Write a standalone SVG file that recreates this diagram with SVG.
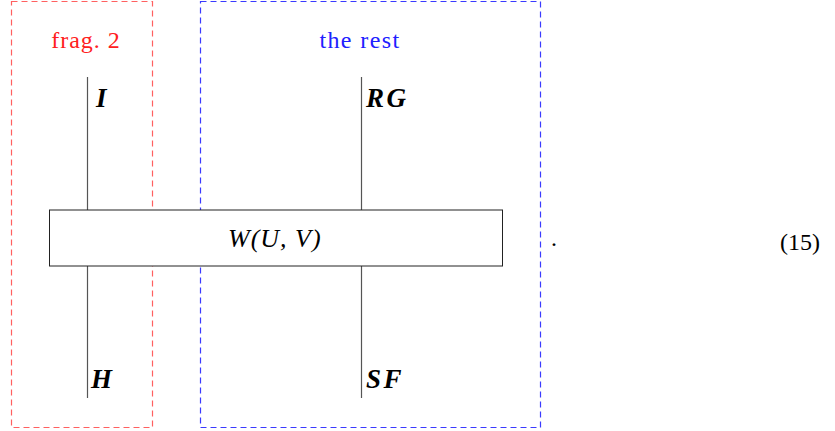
<svg xmlns="http://www.w3.org/2000/svg" width="835" height="431" viewBox="0 0 835 431">
<style>
.wire{stroke:#555;stroke-width:1.2;fill:none}
.lbl{font-family:"Liberation Serif",serif;font-weight:bold;font-style:italic;font-size:27px;fill:#000;letter-spacing:2.5px}
.t{font-family:"Liberation Serif",serif;font-size:24px}
</style>
<rect width="835" height="431" fill="#fff"/>
<g id="frag2">
<rect x="11.5" y="1.5" width="141" height="426" fill="none" stroke="#ff6060" stroke-width="1.2" stroke-dasharray="6,4"/>
<text class="t" x="86" y="48" text-anchor="middle" fill="#ff2020" letter-spacing="1">frag. 2</text>
</g>
<g id="rest">
<rect x="200.5" y="1.5" width="340" height="426" fill="none" stroke="#3a3aff" stroke-width="1.2" stroke-dasharray="6,4"/>
<text class="t" x="360" y="48" text-anchor="middle" fill="#2020ff" letter-spacing="1.4">the rest</text>
</g>
<g id="connectors">
<line class="wire" x1="87.5" y1="77" x2="87.5" y2="210"/>
<line class="wire" x1="87.5" y1="266" x2="87.5" y2="398"/>
<line class="wire" x1="361.5" y1="77" x2="361.5" y2="210"/>
<line class="wire" x1="361.5" y1="266" x2="361.5" y2="398"/>
</g>
<g id="W">
<rect x="49.5" y="210" width="453" height="56" fill="#fff" stroke="#222" stroke-width="1"/>
<text x="228" y="247" font-family="Liberation Serif,serif" font-style="italic" font-size="26" letter-spacing="1">W(U, V)</text>
</g>
<g id="labels">
<text class="lbl" x="96" y="107">I</text>
<text class="lbl" x="366" y="107">RG</text>
<text class="lbl" x="91" y="388">H</text>
<text class="lbl" x="366" y="388">SF</text>
</g>
<text class="t" x="551" y="246">.</text>
<text class="t" x="780" y="250">(15)</text>
</svg>
